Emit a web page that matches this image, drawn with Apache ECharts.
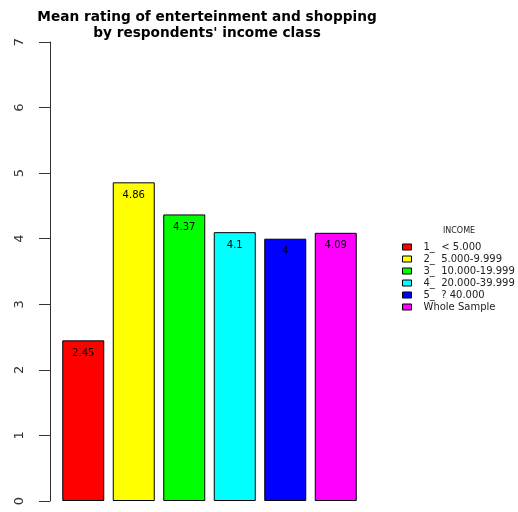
<!DOCTYPE html>
<html>
<head>
<meta charset="utf-8">
<script src="https://cdn.jsdelivr.net/npm/echarts@6/dist/echarts.min.js"></script>
<style>
  html, body { margin: 0; padding: 0; background: #ffffff; }
  #chart { width: 518px; height: 512px; }
</style>
</head>
<body>
<div id="chart"></div>
<script>
// Income classes, their mean ratings and bar colours
const incomeClasses = ['1_  < 5.000', '2_  5.000-9.999', '3_  10.000-19.999', '4_  20.000-39.999', '5_  ? 40.000', 'Whole Sample'];
const meanRatings = [2.45, 4.86, 4.37, 4.1, 4, 4.09];
const barColors = ['#ff0000', '#ffff00', '#00ff00', '#00ffff', '#0000ff', '#ff00ff'];
const yTicks = [0, 1, 2, 3, 4, 5, 6, 7];

const font = '"DejaVu Sans", Verdana, sans-serif';

// One series per class so every class gets its own legend entry;
// each series only has a value at its own category.
const series = incomeClasses.map((name, i) => ({
  name: name,
  type: 'bar',
  barWidth: 42,
  barGap: '-100%',
  itemStyle: { color: barColors[i], borderColor: '#000', borderWidth: 1 },
  label: {
    show: true,
    position: 'insideTop',
    distance: 8,
    color: '#000',
    fontSize: 10,
    fontFamily: font,
    formatter: p => String(p.value)
  },
  data: meanRatings.map((v, j) => (j === i ? v : null))
}));

const chart = echarts.init(document.getElementById('chart'), null, { renderer: 'canvas' });
chart.setOption({
  animation: false,
  backgroundColor: '#ffffff',
  title: [
    {
      text: 'Mean rating of enterteinment and shopping\nby respondents\' income class',
      left: 202,
      textAlign: 'center',
      top: 5,
      textStyle: { fontFamily: font, fontWeight: 'bold', fontSize: 13.7, color: '#000', lineHeight: 15.5 }
    },
    {
      text: 'INCOME',
      left: 454,
      textAlign: 'center',
      top: 222,
      textStyle: { fontFamily: font, fontWeight: 'normal', fontSize: 8, color: '#222' }
    }
  ],
  legend: {
    orient: 'vertical',
    left: 402,
    top: 241,
    padding: 0,
    itemWidth: 9,
    itemHeight: 6,
    itemGap: 0,
    itemStyle: { borderColor: '#000', borderWidth: 1 },
    textStyle: { fontFamily: font, fontSize: 10, color: '#222', lineHeight: 12, padding: [0, 0, 0, 7] },
    icon: 'rect',
    data: incomeClasses
  },
  grid: { left: 58, right: 157, top: 42, bottom: 11, containLabel: false },
  xAxis: {
    type: 'category',
    data: incomeClasses,
    show: false
  },
  yAxis: {
    type: 'value',
    min: yTicks[0],
    max: yTicks[yTicks.length - 1],
    interval: 1,
    offset: 8,
    axisLine: { show: true, lineStyle: { color: '#333', width: 1 } },
    axisTick: { show: true, length: 11, lineStyle: { color: '#333' } },
    splitLine: { show: false },
    axisLabel: {
      rotate: 90,
      margin: 24,
      fontSize: 13,
      fontFamily: font,
      color: '#333'
    }
  },
  series: series
});
</script>
</body>
</html>
